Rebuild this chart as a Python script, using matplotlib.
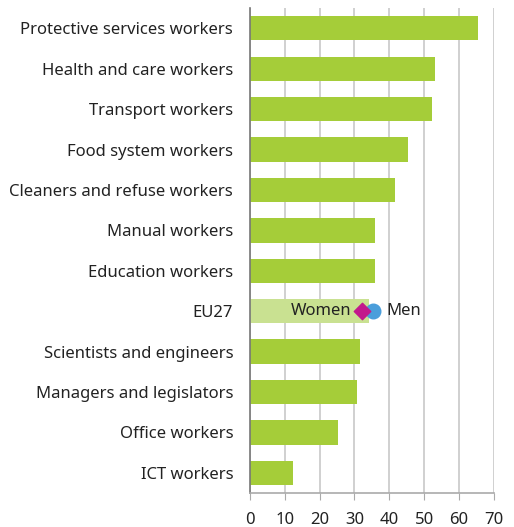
import numpy as np
import matplotlib.pyplot as plt

plt.rcParams['font.family'] = ['Noto Sans', 'DejaVu Sans']

categories = ['Protective services workers', 'Health and care workers', 'Transport workers',
              'Food system workers', 'Cleaners and refuse workers', 'Manual workers',
              'Education workers', 'EU27', 'Scientists and engineers',
              'Managers and legislators', 'Office workers', 'ICT workers']
values = [65.3, 53.0, 52.2, 45.4, 41.5, 35.9, 35.9, 34.3, 31.6, 30.8, 25.3, 12.4]
eu_women = 32.3
eu_men = 35.4
xticks = [0, 10, 20, 30, 40, 50, 60, 70]

green = '#A5CD39'
light_green = '#C9E191'

fig = plt.figure(figsize=(5.14, 5.27), dpi=100)
ax = fig.add_axes([0.486, 0.0645, 0.475, 0.920])

y = np.arange(len(categories))
colors = [light_green if c == 'EU27' else green for c in categories]
ax.barh(y, values, height=0.6, color=colors, zorder=2)

eu = categories.index('EU27')
ax.scatter([eu_men], [eu], marker='o', s=110, color='#4A9EDB', zorder=4)
ax.scatter([eu_women], [eu], marker='D', s=70, color='#C2188C', zorder=5)
ax.text(eu_women - 3.2, eu, 'Women', ha='right', va='center', fontsize=12, color='#222222', zorder=6)
ax.text(eu_men + 3.8, eu, 'Men', ha='left', va='center', fontsize=12, color='#222222', zorder=6)

ax.set_xlim(0, 70)
ax.set_ylim(11.5, -0.5)
ax.set_xticks(xticks)
ax.set_xticklabels([str(t) for t in xticks], fontsize=12, color='#222222')
ax.set_yticks(y)
ax.set_yticklabels(categories, fontsize=12, color='#222222')
ax.tick_params(axis='y', length=0, pad=12)
ax.tick_params(axis='x', length=5, color='#AAAAAA', pad=9)

ax.grid(axis='x', color='#C8C8C8', linewidth=1.2, zorder=0)
for s in ['top', 'right']:
    ax.spines[s].set_visible(False)
ax.spines['left'].set_color('#777777')
ax.spines['left'].set_linewidth(1.2)
ax.spines['bottom'].set_color('#AAAAAA')
ax.spines['bottom'].set_linewidth(1.2)

fig.savefig('out.png', dpi=100)
